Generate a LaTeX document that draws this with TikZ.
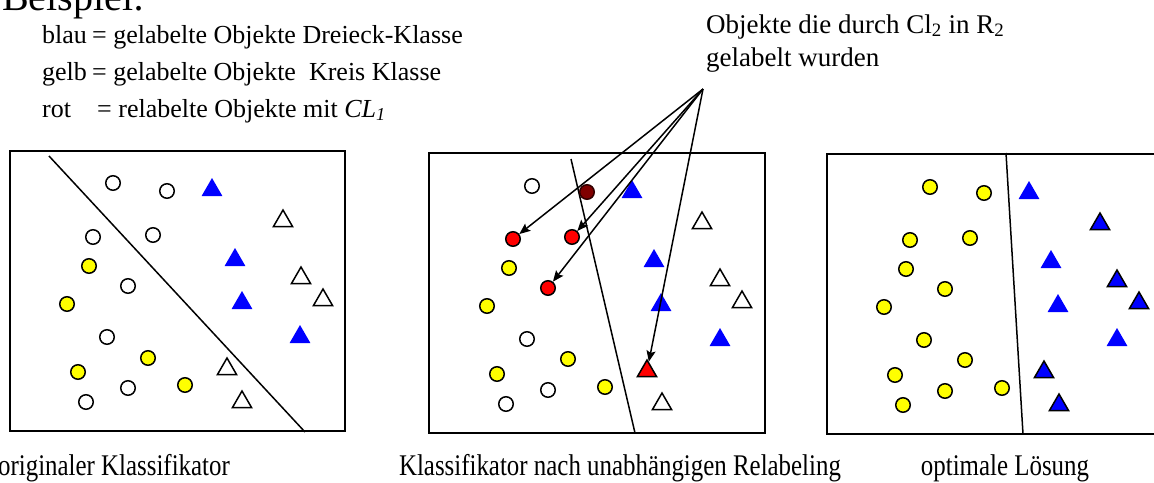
\documentclass[tikz,border=0pt]{standalone}
\usepackage{fontspec}
\setmainfont{Liberation Serif}
\usepackage{graphicx}
\usetikzlibrary{positioning,arrows.meta,shapes.geometric}

\definecolor{triblue}{RGB}{0,0,255}
\definecolor{objyellow}{RGB}{255,255,0}
\definecolor{relred}{RGB}{255,0,0}
\definecolor{oldred}{RGB}{128,0,0}

\newcommand{\narrow}[1]{\scalebox{0.83}[1]{#1}}

\tikzset{
  circ/.style={circle,draw=black,line width=1.5pt,minimum size=14.5pt,inner sep=0pt},
  wcirc/.style={circ,fill=white},
  ycirc/.style={circ,fill=objyellow},
  rcirc/.style={circ,fill=relred},
  dcirc/.style={circ,fill=oldred,draw=black!60!oldred},
  tri/.style={regular polygon,regular polygon sides=3,inner sep=0pt,minimum size=24pt},
  btri/.style={tri,fill=triblue},
  wtri/.style={tri,draw=black,line width=1.5pt,fill=white,minimum size=22pt},
  rtri/.style={wtri,fill=relred},
  bbtri/.style={wtri,fill=triblue},
  panel/.style={draw=black,line width=2pt},
  divline/.style={draw=black,line width=1.5pt},
  relarrow/.style={draw=black,line width=1.5pt,-{Stealth[length=11pt,width=9pt,inset=2pt]}},
  txt/.style={anchor=base west,inner sep=0pt},
  legend/.style={txt,font=\fontsize{26}{30}\selectfont},
  caption/.style={anchor=base,inner sep=0pt,font=\fontsize{30}{34}\selectfont}
}

\begin{document}
\begin{tikzpicture}[x=1pt,y=-1pt]
  \useasboundingbox (0,0) rectangle (1154,482);
  \clip (0,0) rectangle (1154,482);

  % heading and legend
  \node[txt,font=\fontsize{40}{44}\selectfont] (head) at (2,10) {Beispiel:};
  \node[legend] (lblau) at (42,43) {\makebox[50pt][l]{blau}= gelabelte Objekte Dreieck-Klasse};
  \node[legend] (lgelb) at (42,80) {\makebox[50pt][l]{gelb}= gelabelte Objekte\ \ Kreis Klasse};
  \node[legend] (lrot) at (42,117) {\makebox[55pt][l]{rot}= relabelte Objekte mit \textit{CL\textsubscript{1}}};
  \node[txt,font=\fontsize{27}{32}\selectfont] (note1) at (706,33) {Objekte die durch Cl\textsubscript{2} in R\textsubscript{2}};
  \node[txt,font=\fontsize{27}{32}\selectfont] (note2) at (706,66) {gelabelt wurden};

  % panel 1: original classifier
  \draw[panel] (10,151) rectangle (345,431);
  \coordinate (d1a) at (49,156);
  \coordinate (d1b) at (305,432);
  \draw[divline] (d1a) -- (d1b);
  \foreach \px/\py [count=\i] in {113/183,167/191,93/237,153/235,128/286,107/337,128/388,86/402}
    \node[wcirc] (aw\i) at (\px,\py) {};
  \foreach \px/\py [count=\i] in {89/266,67/304,148/358,78/372,185/385}
    \node[ycirc] (ay\i) at (\px,\py) {};
  \foreach \px/\py [count=\i] in {212/190,235/260,242/303,300/337}
    \node[btri] (ab\i) at (\px,\py) {};
  \foreach \px/\py [count=\i] in {283/221,301/278,323/300,227/369,242/402}
    \node[wtri] (at\i) at (\px,\py) {};

  % panel 2: after independent relabeling
  \draw[panel] (429,153) rectangle (765,433);
  \coordinate (d2a) at (571,159);
  \coordinate (d2b) at (635,433);
  \draw[divline] (d2a) -- (d2b);
  \foreach \px/\py [count=\i] in {532/186,527/339,548/390,506/404}
    \node[wcirc] (bw\i) at (\px,\py) {};
  \node[dcirc] (bd1) at (587,192) {};
  \foreach \px/\py [count=\i] in {513/239,572/237,548/288}
    \node[rcirc] (br\i) at (\px,\py) {};
  \foreach \px/\py [count=\i] in {509/268,487/306,568/359,497/374,605/387}
    \node[ycirc] (by\i) at (\px,\py) {};
  \foreach \px/\py [count=\i] in {632/192,654/261,661/305,720/340}
    \node[btri] (bb\i) at (\px,\py) {};
  \foreach \px/\py [count=\i] in {702/223,720/280,742/302,662/404}
    \node[wtri] (bt\i) at (\px,\py) {};
  \node[rtri] (brt) at (647,371) {};

  % arrows from the note
  \coordinate (src) at (703,89);
  \draw[relarrow] (src) -- (br1);
  \draw[relarrow] (src) -- (br2);
  \draw[relarrow] (src) -- (br3);
  \draw[relarrow] (src) -- (brt);

  % panel 3: optimal solution
  \draw[panel] (827,154) rectangle (1175,434);
  \coordinate (d3a) at (1006,153);
  \coordinate (d3b) at (1023,434);
  \draw[divline] (d3a) -- (d3b);
  \foreach \px/\py [count=\i] in {930/187,984/193,910/240,970/238,906/269,945/289,884/307,924/340,965/360,895/375,945/391,1002/388,903/405}
    \node[ycirc] (cy\i) at (\px,\py) {};
  \foreach \px/\py [count=\i] in {1029/193,1051/262,1058/306,1117/340}
    \node[btri] (cb\i) at (\px,\py) {};
  \foreach \px/\py [count=\i] in {1100/224,1117/281,1139/303,1044/372,1059/405}
    \node[bbtri] (ct\i) at (\px,\py) {};

  % captions
  \node[caption] (cap1) at (114,475) {\narrow{originaler Klassifikator}};
  \node[caption] (cap2) at (620,475) {\narrow{Klassifikator nach unabhängigen Relabeling}};
  \node[caption] (cap3) at (1005,475) {\narrow{optimale Lösung}};
\end{tikzpicture}
\end{document}
